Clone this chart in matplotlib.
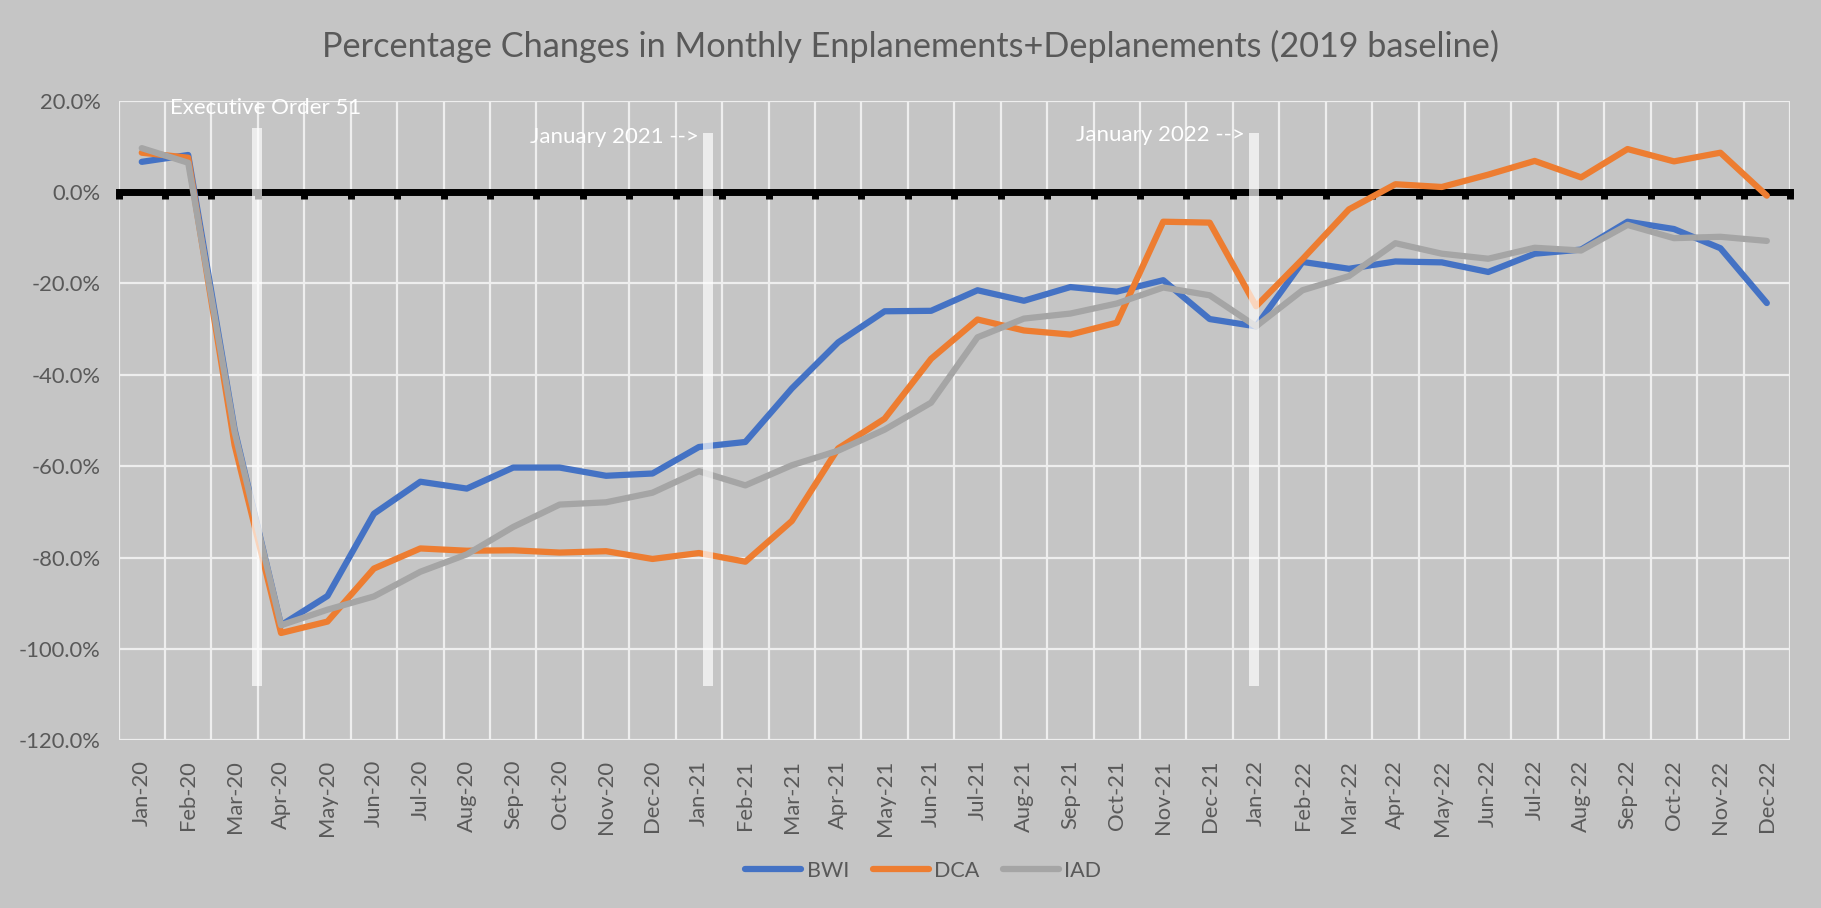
import numpy as np
import matplotlib.pyplot as plt

months = ['Jan-20', 'Feb-20', 'Mar-20', 'Apr-20', 'May-20', 'Jun-20', 'Jul-20', 'Aug-20',
          'Sep-20', 'Oct-20', 'Nov-20', 'Dec-20', 'Jan-21', 'Feb-21', 'Mar-21', 'Apr-21',
          'May-21', 'Jun-21', 'Jul-21', 'Aug-21', 'Sep-21', 'Oct-21', 'Nov-21', 'Dec-21',
          'Jan-22', 'Feb-22', 'Mar-22', 'Apr-22', 'May-22', 'Jun-22', 'Jul-22', 'Aug-22',
          'Sep-22', 'Oct-22', 'Nov-22', 'Dec-22']

bwi = [6.6, 8.1, -52.0, -94.8, -88.4, -70.4, -63.4, -64.9, -60.3, -60.3, -62.1, -61.6,
       -55.8, -54.7, -43.0, -32.9, -26.1, -26.0, -21.5, -23.8, -20.8, -21.8, -19.3, -27.8,
       -29.4, -15.3, -16.8, -15.2, -15.4, -17.5, -13.5, -12.6, -6.5, -8.1, -12.3, -24.3]
dca = [8.6, 7.5, -55.4, -96.5, -94.0, -82.4, -78.0, -78.5, -78.4, -78.9, -78.6, -80.3,
       -79.0, -80.9, -72.0, -56.1, -49.6, -36.5, -27.9, -30.3, -31.2, -28.6, -6.5, -6.7,
       -25.0, -14.7, -3.8, 1.7, 1.1, 3.8, 6.8, 3.2, 9.4, 6.7, 8.6, -0.8]
iad = [9.6, 6.4, -52.5, -94.8, -91.4, -88.5, -83.1, -79.3, -73.3, -68.4, -67.9, -65.8,
       -61.1, -64.2, -59.8, -56.6, -52.0, -46.1, -31.8, -27.7, -26.6, -24.4, -20.9, -22.6,
       -29.4, -21.5, -18.4, -11.2, -13.5, -14.6, -12.2, -12.8, -7.2, -10.1, -9.8, -10.7]

series = {'BWI': bwi, 'DCA': dca, 'IAD': iad}
colors = {'BWI': '#4472C4', 'DCA': '#ED7D31', 'IAD': '#A5A5A5'}

# marker bars (x position in month units, top, bottom) and their labels
event_x = [2.48, 12.19, 23.96]
event_top = [14.0, 13.0, 13.0]
event_bottom = [-108.0, -108.0, -108.0]
notes = ['Executive Order 51', 'January 2021 -->', 'January 2022 -->']
note_x = [0.61, 8.36, 20.12]
note_y = [18.4, 12.1, 12.4]

bg = '#C5C5C5'
txt = '#595959'
font = 'Lato'

fig = plt.figure(figsize=(18.21, 9.08), dpi=100, facecolor=bg)
ax = fig.add_axes([0.0651, 0.1846, 0.9179, 0.7046], facecolor=bg)

x = np.arange(len(months))
for name, vals in series.items():
    ax.plot(x, vals, color=colors[name], lw=4.5, label=name, zorder=3,
            solid_capstyle='round', solid_joinstyle='round')

ax.set_xlim(-0.5, len(months) - 0.5)
ax.set_ylim(-120, 20)
ax.set_yticks(np.arange(-120, 21, 20))
ax.set_yticklabels([f'{v:.1f}%' for v in np.arange(-120, 21, 20)],
                   fontsize=15.8, color=txt, family=font)
ax.tick_params(axis='y', length=0, pad=13)

# category boundaries: gridlines + tick marks on the zero axis
bounds = np.arange(len(months) + 1) - 0.5
ax.set_xticks(bounds)
ax.set_xticklabels([])
ax.tick_params(axis='x', direction='out', length=5, width=5, color='black')
ax.grid(True, color='#EEEEEE', lw=1.6, zorder=0)
ax.set_axisbelow(True)

for s in ['top', 'right', 'left']:
    ax.spines[s].set_visible(False)
ax.spines['bottom'].set_position(('data', 0))
ax.spines['bottom'].set_linewidth(5)
ax.spines['bottom'].set_color('black')

# month labels at the bottom of the plot
sec = ax.secondary_xaxis('bottom')
sec.spines['bottom'].set_visible(False)
sec.set_xticks(x)
sec.set_xticklabels(months, rotation=90, fontsize=15.8, color=txt, family=font)
sec.tick_params(length=0, pad=14)

for bx, top, bot in zip(event_x, event_top, event_bottom):
    ax.bar(bx, top - bot, bottom=bot, width=0.22, color='white', alpha=0.68,
           zorder=5, linewidth=0)

for t, nx, ny in zip(notes, note_x, note_y):
    ax.text(nx, ny, t, color='white', fontsize=16, family=font, va='center',
            ha='left', zorder=6)

fig.text(0.5, 0.949, 'Percentage Changes in Monthly Enplanements+Deplanements (2019 baseline)',
         ha='center', va='center', fontsize=24.7, color=txt, family=font)

handles, labels = ax.get_legend_handles_labels()
fig.legend(handles, labels, loc='center', bbox_to_anchor=(0.507, 0.041), ncol=3,
           frameon=False, prop={'family': font, 'size': 15.5}, labelcolor=txt,
           handlelength=2.6, columnspacing=1.1, handletextpad=0.25)

fig.savefig('out.png', dpi=100, facecolor=bg)
